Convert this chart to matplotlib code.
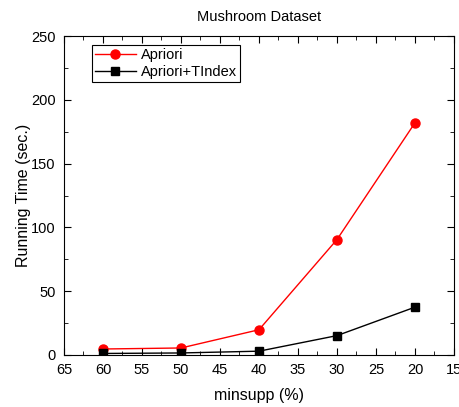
import matplotlib.pyplot as plt
from matplotlib.ticker import MultipleLocator

minsupp = [60, 50, 40, 30, 20]
apriori = [4.7, 5.5, 19.8, 90.5, 182]
tindex = [1.2, 1.6, 3.0, 15.2, 37.5]

plt.rcParams['font.family'] = ['Liberation Sans', 'DejaVu Sans']

fig = plt.figure(figsize=(4.6, 4.07), dpi=100)
ax = fig.add_axes([64 / 460, 1 - 355 / 407, 390 / 460, 319 / 407])

ax.plot(minsupp, apriori, color='red', marker='o', markersize=6.5, linewidth=1, label='Apriori')
ax.plot(minsupp, tindex, color='black', marker='s', markersize=6, linewidth=1, label='Apriori+TIndex')

ax.set_xlim(65, 15)
ax.set_ylim(0, 250)
ax.xaxis.set_major_locator(MultipleLocator(5))
ax.xaxis.set_minor_locator(MultipleLocator(2.5))
ax.yaxis.set_major_locator(MultipleLocator(50))
ax.yaxis.set_minor_locator(MultipleLocator(25))
ax.tick_params(which='both', direction='in', top=True, right=True, labelsize=10.5)
ax.tick_params(which='major', length=5, pad=6)
ax.tick_params(which='minor', length=3)

ax.set_xlabel('minsupp (%)', fontsize=11.5, labelpad=8)
ax.set_ylabel('Running Time (sec.)', fontsize=11.5, labelpad=0)
ax.set_title('Mushroom Dataset', fontsize=10.5, pad=11)

leg = ax.legend(loc='upper left', bbox_to_anchor=(0.06, 0.985), fontsize=10.5, fancybox=False,
                edgecolor='black', framealpha=1, borderpad=0.2, handlelength=2.8,
                labelspacing=0.2, borderaxespad=0.3, handletextpad=0.4)
leg.get_frame().set_linewidth(0.8)

fig.savefig('out.png', dpi=100)
